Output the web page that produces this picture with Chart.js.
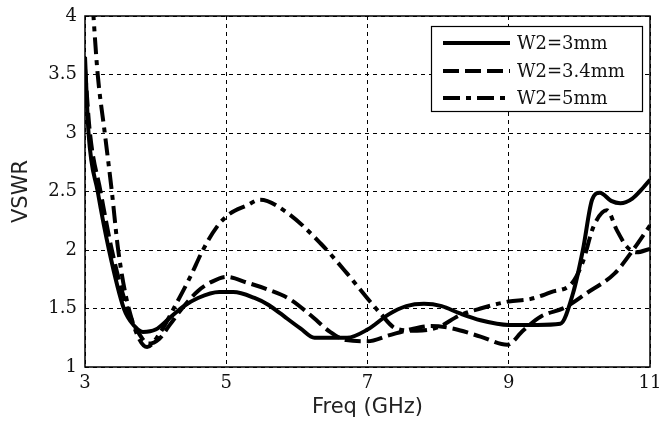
<!DOCTYPE html>
<html>
<head>
<meta charset="utf-8">
<script src="https://cdn.jsdelivr.net/npm/chart.js@4"></script>
<style>
html,body{margin:0;padding:0;background:#fff;}
#wrap{width:660px;height:421px;position:relative;}
</style>
</head>
<body>
<div id="wrap"><canvas id="c" width="660" height="421"></canvas></div>
<script>
// ---- data ----
const seriesLabels = ["W2=3mm", "W2=3.4mm", "W2=5mm"];

const freq3mm = [3.0,3.05,3.18,3.34,3.55,3.7,3.82,4.0,4.2,4.4,4.6,4.9,5.1,5.4,5.6,5.76,6.05,6.25,6.5,6.71,7.0,7.3,7.55,7.8,8.05,8.3,8.6,9.0,9.4,9.73,9.91,10.05,10.18,10.29,10.45,10.58,10.75,10.9,11.0];
const vswr3mm = [3.65,3.0,2.5,2.0,1.5,1.35,1.3,1.32,1.42,1.52,1.59,1.64,1.64,1.59,1.53,1.46,1.33,1.25,1.25,1.25,1.32,1.45,1.52,1.54,1.52,1.46,1.4,1.36,1.36,1.37,1.63,2.0,2.43,2.49,2.42,2.40,2.44,2.53,2.60];

const freq34mm = [3.0,3.07,3.22,3.38,3.6,3.75,3.9,4.05,4.2,4.4,4.6,4.8,5.0,5.3,5.6,5.9,6.2,6.47,6.7,7.0,7.3,7.6,7.9,8.2,8.6,8.98,9.2,9.45,9.8,10.1,10.5,10.76,11.0];
const vswr34mm = [3.55,3.0,2.5,2.0,1.5,1.3,1.2,1.24,1.36,1.52,1.65,1.73,1.77,1.72,1.66,1.58,1.44,1.30,1.23,1.22,1.27,1.32,1.35,1.33,1.26,1.19,1.31,1.43,1.51,1.63,1.8,2.0,2.21];

const freq5mm = [3.08,3.12,3.18,3.28,3.38,3.47,3.62,3.88,4.06,4.3,4.49,4.67,4.87,5.05,5.29,5.48,5.86,6.33,6.71,6.94,7.18,7.4,7.7,8.0,8.3,8.6,9.0,9.3,9.6,9.9,10.05,10.2,10.39,10.53,10.67,10.81,11.0];
const vswr5mm = [4.4,4.0,3.5,3.0,2.5,2.0,1.5,1.17,1.29,1.55,1.77,2.0,2.2,2.31,2.38,2.43,2.32,2.06,1.80,1.63,1.46,1.33,1.31,1.34,1.44,1.5,1.56,1.58,1.64,1.72,1.9,2.2,2.34,2.17,2.03,1.98,2.01];

const xTicks = [3, 5, 7, 9, 11];
const yTicks = [1, 1.5, 2, 2.5, 3, 3.5, 4];

function pts(xs, ys){ return xs.map((x,i)=>({x:x, y:ys[i]})); }

const boxPlugin = {
  id: 'boxAndLegend',
  afterDatasetsDraw(chart){
    const ctx = chart.ctx, a = chart.chartArea;
    ctx.save();
    ctx.strokeStyle = '#000';
    ctx.lineWidth = 1.5;
    ctx.setLineDash([]);
    ctx.strokeRect(a.left, a.top, a.right - a.left, a.bottom - a.top);
    // legend box
    const lx = 431, ly = 26, lw = 211, lh = 85;
    ctx.fillStyle = '#fff';
    ctx.fillRect(lx, ly, lw, lh);
    ctx.lineWidth = 1.2;
    ctx.strokeRect(lx + 0.5, ly + 0.5, lw, lh);
    const rows = [43, 71, 98];
    chart.data.datasets.forEach((ds, i) => {
      const y = rows[i];
      ctx.beginPath();
      ctx.lineWidth = ds.borderWidth;
      ctx.setLineDash(ds.borderDash || []);
      ctx.moveTo(443, y);
      ctx.lineTo(510, y);
      ctx.strokeStyle = '#000';
      ctx.stroke();
      ctx.setLineDash([]);
      ctx.fillStyle = '#111';
      ctx.font = '18px "DejaVu Serif"';
      ctx.textBaseline = 'middle';
      ctx.textAlign = 'left';
      ctx.fillText(ds.label, 517, y + 1);
    });
    ctx.restore();
  }
};

const lineCommon = {
  borderColor: '#000',
  borderWidth: 4,
  pointRadius: 0,
  fill: false,
  cubicInterpolationMode: 'monotone',
  tension: 0.4
};

new Chart(document.getElementById('c'), {
  type: 'line',
  data: {
    datasets: [
      Object.assign({label: seriesLabels[0], data: pts(freq3mm, vswr3mm), borderDash: []}, lineCommon),
      Object.assign({label: seriesLabels[1], data: pts(freq34mm, vswr34mm), borderDash: [16, 6]}, lineCommon),
      Object.assign({label: seriesLabels[2], data: pts(freq5mm, vswr5mm), borderDash: [17, 6, 5, 6]}, lineCommon)
    ]
  },
  options: {
    responsive: false,
    animation: false,
    events: [],
    layout: { padding: { top: 16, right: 10, bottom: 0, left: 0 } },
    plugins: { legend: { display: false }, tooltip: { enabled: false } },
    scales: {
      x: {
        type: 'linear',
        min: 3, max: 11,
        afterBuildTicks(scale){ scale.ticks = xTicks.map(v => ({value: v})); },
        afterFit(scale){ scale.height = 54; scale.paddingLeft = 0; scale.paddingRight = 0; },
        ticks: {
          color: '#111',
          font: { family: '"DejaVu Serif"', size: 18 },
          padding: 6,
          maxRotation: 0,
          autoSkip: false,
          callback: (v) => String(v)
        },
        grid: {
          color: '#000', lineWidth: 1, drawTicks: false
        },
        border: { display: false, dash: [4, 4] },
        title: {
          display: true, text: 'Freq (GHz)', color: '#222',
          font: { family: '"DejaVu Sans"', size: 21 },
          padding: { top: 0, bottom: 1 }
        }
      },
      y: {
        type: 'linear',
        min: 1, max: 4,
        afterBuildTicks(scale){ scale.ticks = yTicks.map(v => ({value: v})); },
        afterFit(scale){ scale.width = 85; scale.paddingTop = 0; scale.paddingBottom = 0; },
        ticks: {
          color: '#111',
          font: { family: '"DejaVu Serif"', size: 18 },
          padding: 8,
          autoSkip: false,
          callback: (v) => String(v)
        },
        grid: {
          color: '#000', lineWidth: 1, drawTicks: false
        },
        border: { display: false, dash: [4, 4] },
        title: {
          display: true, text: 'VSWR', color: '#222',
          font: { family: '"DejaVu Sans"', size: 21 },
          padding: { top: 9, bottom: 0 }
        }
      }
    }
  },
  plugins: [boxPlugin]
});
</script>
</body>
</html>
